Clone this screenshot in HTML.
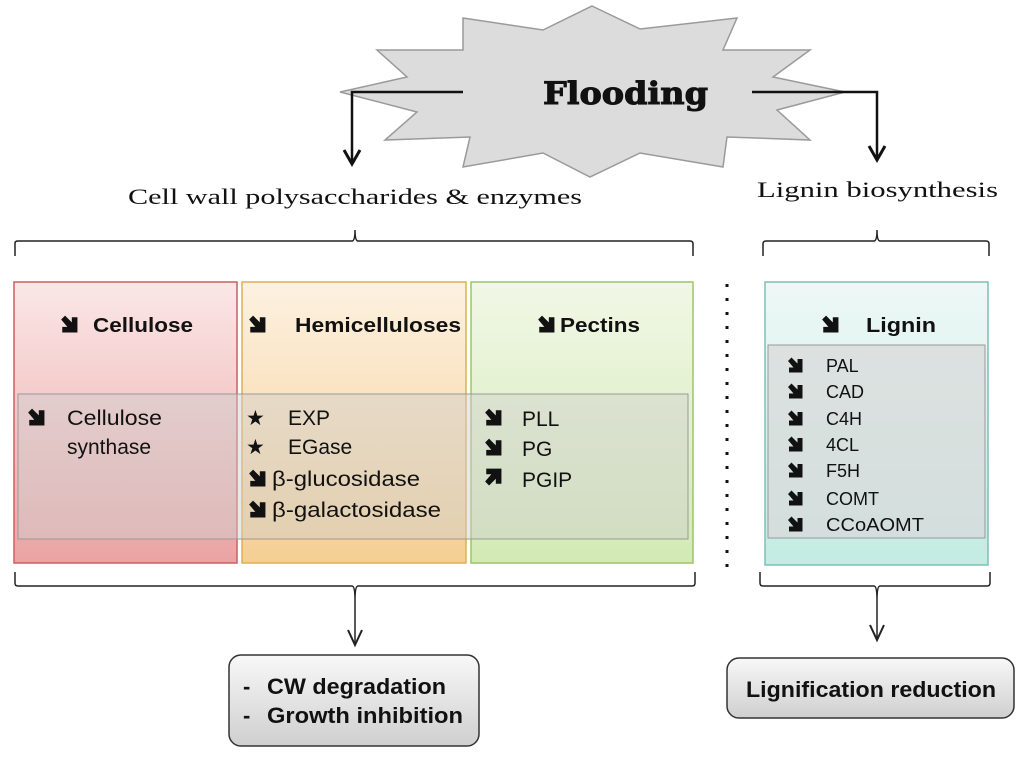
<!DOCTYPE html>
<html><head><meta charset="utf-8"><style>
html,body{margin:0;padding:0;background:#fff;}
svg{display:block;}
.s{font-family:"Liberation Sans","DejaVu Sans",sans-serif;fill:#111;}
.b{font-weight:bold;}
.t{font-family:"Liberation Serif",serif;fill:#111;}
.n{font-family:"Liberation Sans",sans-serif;font-weight:bold;fill:#111;}
</style></head><body>
<svg width="1024" height="761" viewBox="0 0 1024 761" xmlns="http://www.w3.org/2000/svg">
<defs>
<linearGradient id="gr" x1="0" y1="0" x2="0" y2="1"><stop offset="0" stop-color="#fbe7e7"/><stop offset="1" stop-color="#eba3a3"/></linearGradient>
<linearGradient id="go" x1="0" y1="0" x2="0" y2="1"><stop offset="0" stop-color="#fdf1e1"/><stop offset="1" stop-color="#f5cf92"/></linearGradient>
<linearGradient id="gg" x1="0" y1="0" x2="0" y2="1"><stop offset="0" stop-color="#f1f7e6"/><stop offset="1" stop-color="#d3eab4"/></linearGradient>
<linearGradient id="gt" x1="0" y1="0" x2="0" y2="1"><stop offset="0" stop-color="#eef8f6"/><stop offset="1" stop-color="#c3ebe3"/></linearGradient>
<linearGradient id="gb" x1="0" y1="0" x2="0" y2="1"><stop offset="0" stop-color="#f8f8f8"/><stop offset="1" stop-color="#cfcfcf"/></linearGradient>
<symbol id="dn" viewBox="0 0 16 16"><path d="M1 4 L4.5 0.5 L10.5 6.5 L10.5 2 L15.5 2 L15.5 15.5 L2 15.5 L2 10.5 L6.5 10.5 Z" fill="#111"/></symbol>
<symbol id="up" viewBox="0 0 16 16"><path d="M1 12 L4.5 15.5 L10.5 9.5 L10.5 14 L15.5 14 L15.5 0.5 L2 0.5 L2 5.5 L6.5 5.5 Z" fill="#111"/></symbol>
</defs>

<polygon points="592,6 640,29 737,18 723,50 810,50 773,77 845,92 777,110 810,140 727,137 723,167 640,153 590,177 543,153 463,167 470,137 385,140 417,112 340,92 407,77 377,50 463,50 463,18 543,30" fill="#dcdcdc" stroke="#9a9a9a" stroke-width="1.5"/>
<text x="543" y="104" textLength="165" lengthAdjust="spacingAndGlyphs" style="font-size:31px;font-weight:900;font-family:'DejaVu Serif','Liberation Serif',serif;fill:#111;stroke:#111;stroke-width:1">Flooding</text>
<g stroke="#111" stroke-width="2.5" fill="none">
<path d="M463 92 H352 V162"/><path d="M344 150 L352 164 L360 150" stroke-width="3"/>
<path d="M752 92 H877 V158"/><path d="M869 146 L877 160 L885 146" stroke-width="3"/>
</g>
<text x="128" y="204" textLength="454" lengthAdjust="spacingAndGlyphs" class="t" style="font-size:22px">Cell wall polysaccharides &amp; enzymes</text>
<text x="757" y="197" textLength="241" lengthAdjust="spacingAndGlyphs" class="t" style="font-size:22px">Lignin biosynthesis</text>

<g stroke="#222" stroke-width="1.5" fill="none">
<path d="M15 256 V243 Q15 241 18 241 H352 Q355 241 355 230 Q355 241 358 241 H690 Q693 241 693 244 V256"/>
<path d="M763 256 V244 Q763 241 766 241 H874 Q877 241 877 230 Q877 241 880 241 H986 Q989 241 989 244 V256"/>
<path d="M15 572 V583 Q15 586 18 586 H352 Q355 586 355 600 Q355 586 358 586 H692 Q695 586 695 583 V572"/>
<path d="M760 572 V583 Q760 586 763 586 H874 Q877 586 877 600 Q877 586 880 586 H987 Q990 586 990 583 V572"/>
<path d="M355 600 V643"/><path d="M348 630 L355 645 L362 630" stroke-width="2"/>
<path d="M877 600 V638"/><path d="M870 625 L877 640 L884 625" stroke-width="2"/>
</g>

<rect x="14" y="282" width="223" height="281" fill="url(#gr)" stroke="#c96060" stroke-width="1.5"/>
<rect x="242" y="282" width="224" height="281" fill="url(#go)" stroke="#e0ad55" stroke-width="1.5"/>
<rect x="471" y="282" width="222" height="281" fill="url(#gg)" stroke="#9dc46a" stroke-width="1.5"/>
<rect x="765" y="282" width="223" height="283" fill="url(#gt)" stroke="#7fbfb3" stroke-width="1.5"/>
<line x1="727" y1="284" x2="727" y2="568" stroke="#111" stroke-width="3" stroke-dasharray="3,11"/>

<rect x="18" y="394" width="670" height="145" fill="#cfcfcf" fill-opacity="0.45" stroke="#999" stroke-width="1"/>
<rect x="768" y="345" width="217" height="193" fill="#d8d8d8" fill-opacity="0.7" stroke="#999" stroke-width="1"/>

<g class="s b" style="font-size:20px">
<use href="#dn" x="60" y="315" width="18" height="18"/><text x="93" y="332" textLength="100" lengthAdjust="spacingAndGlyphs">Cellulose</text>
<use href="#dn" x="248" y="315" width="18" height="18"/><text x="295" y="332" textLength="166" lengthAdjust="spacingAndGlyphs">Hemicelluloses</text>
<use href="#dn" x="537" y="315" width="18" height="18"/><text x="560" y="332" textLength="80" lengthAdjust="spacingAndGlyphs">Pectins</text>
<use href="#dn" x="821" y="315" width="18" height="18"/><text x="866" y="332" textLength="70" lengthAdjust="spacingAndGlyphs">Lignin</text>
</g>
<g class="s" style="font-size:21px">
<use href="#dn" x="27" y="408" width="18" height="18"/><text x="67" y="425" textLength="95" lengthAdjust="spacingAndGlyphs">Cellulose</text><text x="67" y="454">synthase</text>
<text x="246" y="425">★</text><text x="288" y="425">EXP</text>
<text x="246" y="454">★</text><text x="288" y="454">EGase</text>
<use href="#dn" x="248" y="469" width="18" height="18"/><text x="272" y="486" textLength="148" lengthAdjust="spacingAndGlyphs">β-glucosidase</text>
<use href="#dn" x="248" y="500" width="18" height="18"/><text x="272" y="517" textLength="169" lengthAdjust="spacingAndGlyphs">β-galactosidase</text>
<use href="#dn" x="484" y="408" width="18" height="18"/><text x="522" y="426">PLL</text>
<use href="#dn" x="484" y="438" width="18" height="18"/><text x="522" y="456">PG</text>
<use href="#up" x="484" y="468" width="18" height="18"/><text x="522" y="487">PGIP</text>
</g>
<g class="s" style="font-size:18px">
<use href="#dn" x="787" y="357" width="16" height="16"/><text x="826" y="372">PAL</text>
<use href="#dn" x="787" y="383" width="16" height="16"/><text x="826" y="398">CAD</text>
<use href="#dn" x="787" y="410" width="16" height="16"/><text x="826" y="425">C4H</text>
<use href="#dn" x="787" y="436" width="16" height="16"/><text x="826" y="451">4CL</text>
<use href="#dn" x="787" y="462" width="16" height="16"/><text x="826" y="477">F5H</text>
<use href="#dn" x="787" y="490" width="16" height="16"/><text x="826" y="505">COMT</text>
<use href="#dn" x="787" y="516" width="16" height="16"/><text x="826" y="531" textLength="98" lengthAdjust="spacingAndGlyphs">CCoAOMT</text>
</g>

<rect x="229" y="655" width="250" height="91" rx="12" fill="url(#gb)" stroke="#333" stroke-width="1.5"/>
<rect x="727" y="658" width="287" height="60" rx="12" fill="url(#gb)" stroke="#333" stroke-width="1.5"/>
<g class="n" style="font-size:22px">
<text x="243" y="694">-</text><text x="267" y="694" textLength="179" lengthAdjust="spacingAndGlyphs">CW degradation</text>
<text x="243" y="723">-</text><text x="267" y="723" textLength="196" lengthAdjust="spacingAndGlyphs">Growth inhibition</text>
<text x="746" y="697" textLength="250" lengthAdjust="spacingAndGlyphs">Lignification reduction</text>
</g>
</svg>
</body></html>
